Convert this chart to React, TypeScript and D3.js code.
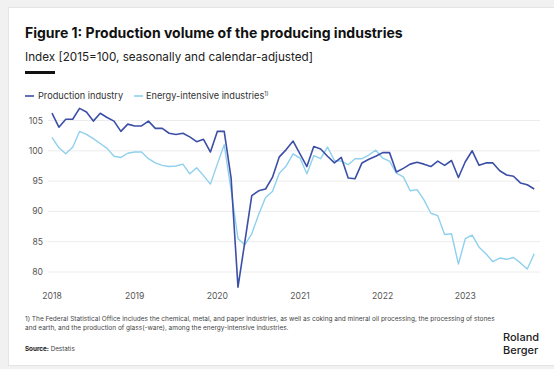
import React from "react";
import * as d3 from "d3";

const years = ["2018", "2019", "2020", "2021", "2022", "2023"];
const yTicks = [80, 85, 90, 95, 100, 105];

const production = [
  106.2, 103.9, 105.2, 105.2, 107.0, 106.4, 104.9, 106.2, 105.5, 104.9, 103.2, 104.4,
  104.1, 104.1, 104.9, 103.7, 103.7, 102.9, 102.7, 102.9, 102.3, 101.5, 101.9, 99.8,
  103.2, 103.2, 95.5, 77.5, 85.0, 92.6, 93.4, 93.7, 95.6, 99.0, 100.2, 101.6,
  99.5, 97.4, 100.7, 100.3, 99.1, 98.0, 98.9, 95.5, 95.4, 98.0, 98.6, 99.1,
  99.7, 99.7, 96.5, 97.1, 97.8, 98.1, 97.8, 97.4, 98.3, 97.6, 98.4, 95.6,
  98.2, 100.0, 97.6, 98.0, 98.0, 96.7, 96.0, 95.8, 94.7, 94.4, 93.7,
];

const energyIntensive = [
  102.2, 100.5, 99.5, 100.6, 103.2, 102.7, 102.0, 101.2, 100.4, 99.1, 98.9, 99.6,
  99.8, 99.8, 98.7, 98.0, 97.6, 97.4, 97.5, 97.8, 96.2, 97.2, 95.9, 94.5,
  97.8, 101.0, 93.5, 85.5, 84.5, 86.3, 89.5, 92.3, 93.3, 96.3, 97.5, 99.5,
  98.8, 96.2, 99.2, 98.7, 100.6, 98.4, 98.3, 97.7, 98.7, 98.7, 99.3, 100.1,
  98.8, 98.3, 96.3, 95.7, 93.4, 93.6, 91.9, 89.7, 89.3, 86.2, 86.3, 81.3,
  85.5, 86.1, 84.1, 83.0, 81.7, 82.3, 82.1, 82.4, 81.5, 80.5, 83.0,
];

const seriesNames = ["Production industry", "Energy-intensive industries"];

const W = 554;
const H = 369;
const DARK = "#3c4fa6";
const LIGHT = "#8fd0ee";
const FONT = "Inter, 'Open Sans', sans-serif";

export default function App() {
  const x = d3.scaleLinear().domain([0, 60]).range([52, 465.3]);
  const y = d3.scaleLinear().domain([80, 105]).range([272, 120.5]);
  const line = d3
    .line<number>()
    .x((_, i) => x(i))
    .y((v) => y(v))
    .curve(d3.curveLinear);

  return (
    <svg
      width={W}
      height={H}
      style={{ position: "absolute", left: 0, top: 0, fontFamily: FONT }}
    >
      <rect x={0} y={0} width={W} height={H} fill="#f1f1f1" />
      <rect x={8.5} y={7.5} width={W} height={358} fill="#ffffff" stroke="#e4e4e4" />

      <text x={25} y={38} fontSize={14} fontWeight={700} fill="#111">
        Figure 1: Production volume of the producing industries
      </text>
      <text x={25} y={61} fontSize={11.7} fill="#222">
        Index [2015=100, seasonally and calendar-adjusted]
      </text>
      <rect x={25} y={71} width={30} height={3} fill="#111" />

      {/* legend */}
      <line x1={25} x2={34} y1={96} y2={96} stroke={DARK} strokeWidth={1.6} />
      <text x={38} y={99} fontSize={9.2} fill="#333">{seriesNames[0]}</text>
      <line x1={134} x2={143} y1={96} y2={96} stroke={LIGHT} strokeWidth={1.6} />
      <text x={146} y={99} fontSize={9.2} fill="#333">
        {seriesNames[1]}
        <tspan fontSize={5.5} dy={-3}>1)</tspan>
      </text>

      {/* grid + y axis */}
      {yTicks.map((t) => (
        <g key={t}>
          <line x1={48} x2={540} y1={y(t)} y2={y(t)} stroke="#ececec" strokeWidth={1} />
          <text x={43} y={y(t) + 3} fontSize={8.6} fill="#555" textAnchor="end">
            {t}
          </text>
        </g>
      ))}

      {/* x axis labels */}
      {years.map((yr, i) => (
        <text key={yr} x={x(i * 12)} y={299} fontSize={8.6} fill="#555" textAnchor="middle">
          {yr}
        </text>
      ))}

      <path d={line(energyIntensive) || ""} fill="none" stroke={LIGHT} strokeWidth={1.4} strokeLinejoin="round" />
      <path d={line(production) || ""} fill="none" stroke={DARK} strokeWidth={1.6} strokeLinejoin="round" />

      {/* footnote */}
      <text x={25} y={321} fontSize={6.5} fill="#444">
        1) The Federal Statistical Office includes the chemical, metal, and paper industries, as well as coking and mineral oil processing, the processing of stones
      </text>
      <text x={25} y={329.5} fontSize={6.5} fill="#444">
        and earth, and the production of glass(-ware), among the energy-intensive industries.
      </text>
      <text x={25} y={351} fontSize={6.3} fill="#444">
        <tspan fontWeight={700} fill="#111">Source:</tspan> Destatis
      </text>

      <text x={503} y={341} fontSize={11} fontWeight={500} fill="#222">Roland</text>
      <text x={503} y={354} fontSize={11} fontWeight={500} fill="#222">Berger</text>
    </svg>
  );
}
